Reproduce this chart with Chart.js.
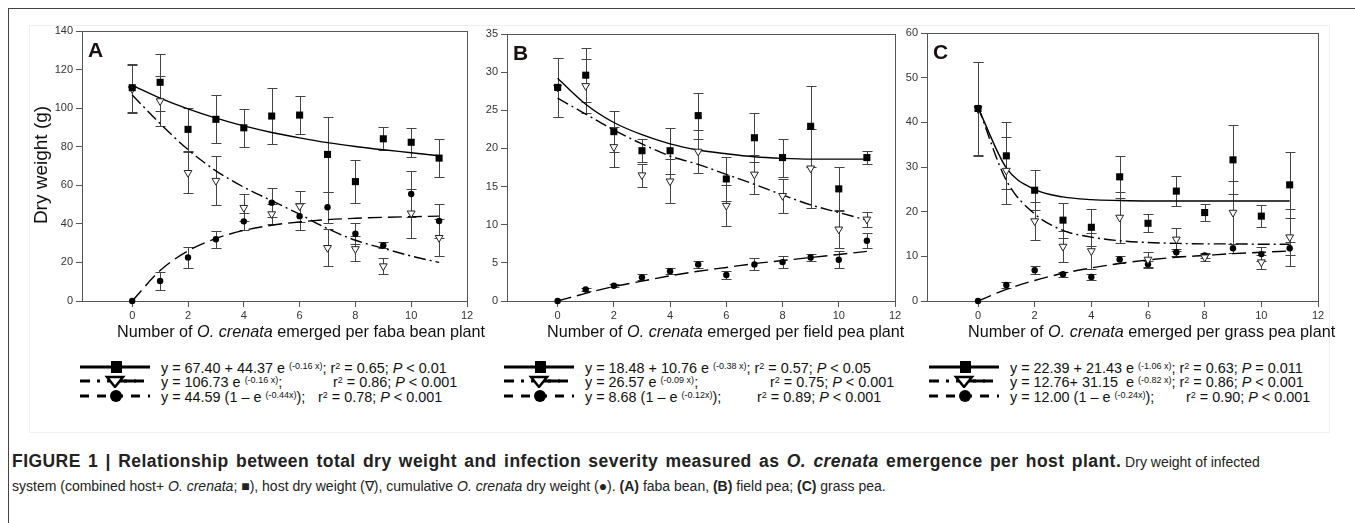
<!DOCTYPE html>
<html>
<head>
<meta charset="utf-8">
<script src="https://cdn.jsdelivr.net/npm/chart.js@4"></script>
<style>
  body { margin: 0; background: #fff; font-family: 'Liberation Sans', Arial, sans-serif; color: #111; }
  #page { position: relative; width: 1355px; height: 523px; overflow: hidden; }
  #outer { position: absolute; left: 8px; top: 8px; width: 1400px; height: 600px; border-left: 1px solid #444; border-top: 1px solid #444; }
  #faint { position: absolute; left: 29px; top: 25px; width: 1299px; height: 406px; border: 1px solid #f0f0f0; }
  canvas { position: absolute; top: 20px; }
  .abs { position: absolute; white-space: nowrap; }
  .panel { font-weight: bold; font-size: 21px; color: #1a1010; }
  .xt { font-size: 16.2px; color: #111; }
  .yt { font-size: 19px; transform: rotate(-90deg); transform-origin: center center; }
  .leg { font-size: 14.4px; line-height: 16px; height: 16px; }
  .leg sup { font-size: 9px; vertical-align: 4px; line-height: 0; }
  .cap { font-size: 14px; color: #222; }
  .cap b.big { font-size: 17.5px; letter-spacing: 0.45px; word-spacing: 2px; }
</style>
</head>
<body>
<div id="page">
  <div id="outer"></div>
  <div id="faint"></div>
  <canvas id="cA" width="470" height="312" style="left:20px"></canvas>
  <canvas id="cB" width="440" height="312" style="left:470px"></canvas>
  <canvas id="cC" width="450" height="312" style="left:890px"></canvas>

  <div class="abs panel" style="left:88px;top:38px">A</div>
  <div class="abs panel" style="left:513px;top:41px">B</div>
  <div class="abs panel" style="left:933px;top:40px">C</div>

  <div class="abs yt" style="left:-21px;top:154px;width:124px;text-align:center">Dry weight (g)</div>

  <div class="abs xt" style="left:117px;top:322px">Number of <i>O. crenata</i> emerged per faba bean plant</div>
  <div class="abs xt" style="left:547px;top:322px">Number of <i>O. crenata</i> emerged per field pea plant</div>
  <div class="abs xt" style="left:968px;top:322px">Number of <i>O. crenata</i> emerged per grass pea plant</div>

  <div id="legends"></div>

  <div class="abs cap" style="left:12px;top:451px"><b class="big">FIGURE 1 | Relationship between total dry weight and infection severity measured as <i>O. crenata</i> emergence per host plant.</b> Dry weight of infected</div>
  <div class="abs cap" style="left:12px;top:478px">system (combined host+ <i>O. crenata</i>; &#9632;), host dry weight (&#8711;), cumulative <i>O. crenata</i> dry weight (&#9679;). <b>(A)</b> faba bean, <b>(B)</b> field pea; <b>(C)</b> grass pea.</div>
</div>
<script>
const xVals = [0, 1, 2, 3, 4, 5, 6, 7, 8, 9, 10, 11];
const xTicks = [0, 2, 4, 6, 8, 10, 12];

// A: faba bean
const aYTicks = [0, 20, 40, 60, 80, 100, 120, 140];
const aSq = [110.6, 113.4, 89, 94.2, 89.8, 95.9, 96.4, 76, 61.9, 84.1, 82.3, 74.1];
const aSqErr = [12.5, 14.8, 11, 12.4, 10, 14.5, 10, 19.4, 11, 6, 7.5, 10];
const aTri = [110, 103.7, 66.5, 62.4, 48.4, 45.1, 49.2, 27.6, 27, 18.1, 45.5, 32.8];
const aTriErr = [12.5, 13, 10.7, 12.8, 7, 5, 8, 9.5, 6.5, 4, 12.8, 9.5];
const aCir = [0, 10.4, 22.6, 32, 41.3, 51, 44, 48.6, 34.9, 28.9, 55.5, 41.5];
const aCirErr = [0, 4.5, 5.6, 4.5, 4.5, 7.4, 7, 8, 5.4, 1.5, 12, 9];
const aSqFit = [111.8, 105.2, 99.6, 94.8, 90.8, 87.4, 84.6, 82.1, 80.1, 78.4, 76.9, 75.3];
const aTriFit = [106.8, 92, 78.5, 67.5, 59, 52, 45, 37.5, 31.5, 27.3, 23.3, 20];
const aCirFit = [0, 15.8, 26, 32.4, 36.6, 39.3, 41, 42.2, 42.9, 43.4, 43.7, 44];

// B: field pea
const bYTicks = [0, 5, 10, 15, 20, 25, 30, 35];
const bSq = [28, 29.6, 22.2, 19.7, 19.7, 24.3, 16, 21.4, 18.8, 22.9, 14.7, 18.8];
const bSqErr = [3.9, 3.5, 2.7, 1.5, 3, 3, 2.9, 3.2, 2.5, 5.3, 2.9, 0.9];
const bTri = [28, 28.2, 20.2, 16.5, 15.7, 19.6, 12.5, 16.6, 13.8, 17.4, 9.4, 10.7];
const bTriErr = [3.9, 3.5, 2.6, 1.5, 2.9, 2.8, 2.7, 2.6, 2.2, 5.2, 2.5, 1];
const bCir = [0, 1.5, 2, 3.1, 3.9, 4.8, 3.4, 4.8, 5.1, 5.7, 5.4, 7.9];
const bCirErr = [0, 0.2, 0.2, 0.4, 0.4, 0.5, 0.5, 0.8, 0.8, 0.4, 1.1, 1];
const bSqFit = [29.2, 25.8, 23.4, 21.8, 20.6, 19.8, 19.3, 18.9, 18.7, 18.6, 18.6, 18.6];
const bTriFit = [26.6, 24.5, 22.4, 20.6, 19, 17.9, 16.6, 15.3, 13.9, 12.6, 11.6, 10.6];
const bCirFit = [0, 1, 1.9, 2.6, 3.3, 3.9, 4.4, 4.9, 5.3, 5.7, 6.1, 6.5];

// C: grass pea
const cYTicks = [0, 10, 20, 30, 40, 50, 60];
const cSq = [43.1, 32.5, 24.8, 18.1, 16.5, 27.8, 17.4, 24.6, 19.8, 31.6, 19, 26];
const cSqErr = [10.5, 7.5, 4.5, 3.9, 4.2, 4.7, 2, 3.3, 1.9, 7.7, 2.4, 7.4];
const cTri = [43, 29.2, 17.9, 12.2, 11.2, 18.7, 9.3, 13.8, 9.8, 19.8, 8.7, 14.3];
const cTriErr = [10.5, 7.5, 4.2, 3.4, 4, 5.8, 1.6, 2.5, 0.8, 7, 1.5, 6.4];
const cCir = [0, 3.6, 6.9, 6, 5.4, 9.3, 8.2, 10.9, 10.2, 11.8, 10.5, 11.8];
const cCirErr = [0, 0.6, 0.9, 0.6, 0.7, 0.8, 0.8, 0.8, 0.5, 1, 1.5, 1.5];
const cSqFit = [43.3, 29.8, 25, 23.3, 22.7, 22.5, 22.4, 22.4, 22.4, 22.4, 22.4, 22.4];
const cTriFit = [43.5, 27, 19.5, 15.8, 14.3, 13.5, 13.1, 12.9, 12.8, 12.8, 12.7, 12.7];
const cCirFit = [0, 2.6, 4.6, 6.2, 7.4, 8.4, 9.2, 9.8, 10.2, 10.6, 10.9, 11.2];

// legend text per panel
const legendRows = [
  { left: 80, text: ['y = 67.40 + 44.37 e <sup>(-0.16 x)</sup>; r<sup>2</sup> = 0.65; <i>P</i> &lt; 0.01',
                     'y = 106.73 e <sup>(-0.16 x)</sup>;', 'y = 44.59 (1 &ndash; e <sup>(-0.44x)</sup>);'],
    stats: [null, 'r<sup>2</sup> = 0.86; <i>P</i> &lt; 0.001', 'r<sup>2</sup> = 0.78; <i>P</i> &lt; 0.001'], statX: [0, 333, 318] },
  { left: 504, text: ['y = 18.48 + 10.76 e <sup>(-0.38 x)</sup>; r<sup>2</sup> = 0.57; <i>P</i> &lt; 0.05',
                      'y = 26.57 e <sup>(-0.09 x)</sup>;', 'y = 8.68 (1 &ndash; e <sup>(-0.12x)</sup>);'],
    stats: [null, 'r<sup>2</sup> = 0.75; <i>P</i> &lt; 0.001', 'r<sup>2</sup> = 0.89; <i>P</i> &lt; 0.001'], statX: [0, 770, 757] },
  { left: 929, text: ['y = 22.39 + 21.43 e <sup>(-1.06 x)</sup>; r<sup>2</sup> = 0.63; <i>P</i> = 0.011',
                      'y = 12.76+ 31.15&nbsp; e <sup>(-0.82 x)</sup>; r<sup>2</sup> = 0.86; <i>P</i> &lt; 0.001', 'y = 12.00 (1 &ndash; e <sup>(-0.24x)</sup>);'],
    stats: [null, null, 'r<sup>2</sup> = 0.90; <i>P</i> &lt; 0.001'], statX: [0, 0, 1186] }
];
const rowY = [368, 382, 397];

const symbols = [
  '<svg width="72" height="14"><line x1="0" y1="7" x2="70" y2="7" stroke="#000" stroke-width="3"/><rect x="31" y="1" width="11" height="12" fill="#000"/></svg>',
  '<svg width="72" height="14"><line x1="0" y1="7" x2="70" y2="7" stroke="#000" stroke-width="3" stroke-dasharray="10 7 3 7"/><line x1="38" y1="7" x2="56" y2="7" stroke="#000" stroke-width="3"/><polygon points="27,3 43,3 35,13" fill="#fff" stroke="#000" stroke-width="2.5"/></svg>',
  '<svg width="72" height="14"><line x1="0" y1="7" x2="70" y2="7" stroke="#000" stroke-width="3" stroke-dasharray="9 8"/><circle cx="36" cy="7" r="6" fill="#000"/></svg>'
];

const legHtml = [];
legendRows.forEach(p => {
  for (let r = 0; r < 3; r++) {
    const top = rowY[r] - 8;
    legHtml.push(`<div class="abs leg" style="left:${p.left}px;top:${top}px">${symbols[r]}</div>`);
    legHtml.push(`<div class="abs leg" style="left:${p.left + 81}px;top:${top}px">${p.text[r]}</div>`);
    if (p.stats[r]) legHtml.push(`<div class="abs leg" style="left:${p.statX[r]}px;top:${top}px">${p.stats[r]}</div>`);
  }
});
document.getElementById('legends').innerHTML = legHtml.join('');

const errorBars = {
  id: 'errorBars',
  beforeDatasetsDraw(chart) {
    const ctx = chart.ctx, xs = chart.scales.x, ys = chart.scales.y;
    const a = chart.chartArea;
    ctx.save();
    ctx.strokeStyle = '#555';
    ctx.lineWidth = 1;
    ctx.strokeRect(a.left + 0.5, a.top + 0.5, a.right - a.left, a.bottom - a.top);
    ctx.strokeStyle = '#444';
    chart.data.datasets.forEach(ds => {
      if (!ds.err) return;
      ds.data.forEach((p, i) => {
        const e = ds.err[i];
        if (!e) return;
        const px = Math.round(xs.getPixelForValue(p.x)) + 0.5;
        const y1 = Math.round(ys.getPixelForValue(p.y + e)) + 0.5;
        const y2 = Math.round(ys.getPixelForValue(p.y - e)) + 0.5;
        ctx.beginPath();
        ctx.moveTo(px, y1); ctx.lineTo(px, y2);
        ctx.moveTo(px - 5, y1); ctx.lineTo(px + 5, y1);
        ctx.moveTo(px - 5, y2); ctx.lineTo(px + 5, y2);
        ctx.stroke();
      });
    });
    ctx.restore();
  }
};

const pts = ys => xVals.map((x, i) => ({ x, y: ys[i] }));

function makePanel(id, o) {
  const fitLine = (ys, dash) => ({
    data: pts(ys), showLine: true, pointRadius: 0, borderColor: '#000', borderWidth: 1.4,
    borderDash: dash, cubicInterpolationMode: 'monotone', fill: false, order: 2, clip: false
  });
  new Chart(document.getElementById(id), {
    type: 'scatter',
    data: {
      datasets: [
        fitLine(o.sqFit, []),
        fitLine(o.triFit, [12, 4, 2, 4]),
        fitLine(o.cirFit, [14, 6]),
        { data: pts(o.tri), err: o.triErr, pointStyle: 'triangle', rotation: 180, pointRadius: 4.5,
          backgroundColor: '#fff', borderColor: '#222', borderWidth: 1, order: 1, clip: false },
        { data: pts(o.cir), err: o.cirErr, pointStyle: 'circle', pointRadius: 3.2,
          backgroundColor: '#000', borderColor: '#000', borderWidth: 0, order: 1, clip: false },
        { data: pts(o.sq), err: o.sqErr, pointStyle: 'rect', pointRadius: 5,
          backgroundColor: '#000', borderColor: '#000', borderWidth: 0, order: 0, clip: false }
      ]
    },
    options: {
      responsive: false,
      animation: false,
      layout: { padding: { top: o.padTop, right: o.padRight, left: 0, bottom: 0 } },
      plugins: { legend: { display: false }, tooltip: { enabled: false } },
      scales: {
        x: {
          type: 'linear', min: -1.8, max: 12,
          afterBuildTicks: s => { s.ticks = xTicks.map(v => ({ value: v })); },
          afterFit: s => { s.height = 31; },
          border: { display: false },
          grid: { drawOnChartArea: false, drawTicks: true, tickLength: 6, color: '#555' },
          ticks: { color: '#333', padding: 2, font: { family: 'Liberation Sans', size: 11 } }
        },
        y: {
          type: 'linear', min: 0, max: o.yTicks[o.yTicks.length - 1],
          afterBuildTicks: s => { s.ticks = o.yTicks.map(v => ({ value: v })); },
          afterFit: s => { s.width = o.yWidth; },
          border: { display: false },
          grid: { drawOnChartArea: false, drawTicks: true, tickLength: 6, color: '#555' },
          ticks: { color: '#333', padding: 3, font: { family: 'Liberation Sans', size: 11 } }
        }
      }
    },
    plugins: [errorBars]
  });
}

makePanel('cA', { yTicks: aYTicks, sq: aSq, sqErr: aSqErr, tri: aTri, triErr: aTriErr, cir: aCir, cirErr: aCirErr,
  sqFit: aSqFit, triFit: aTriFit, cirFit: aCirFit, padTop: 11, padRight: 23, yWidth: 62 });
makePanel('cB', { yTicks: bYTicks, sq: bSq, sqErr: bSqErr, tri: bTri, triErr: bTriErr, cir: bCir, cirErr: bCirErr,
  sqFit: bSqFit, triFit: bTriFit, cirFit: bCirFit, padTop: 14, padRight: 15, yWidth: 37 });
makePanel('cC', { yTicks: cYTicks, sq: cSq, sqErr: cSqErr, tri: cTri, triErr: cTriErr, cir: cCir, cirErr: cCirErr,
  sqFit: cSqFit, triFit: cTriFit, cirFit: cCirFit, padTop: 13, padRight: 22, yWidth: 37 });
</script>
</body>
</html>
